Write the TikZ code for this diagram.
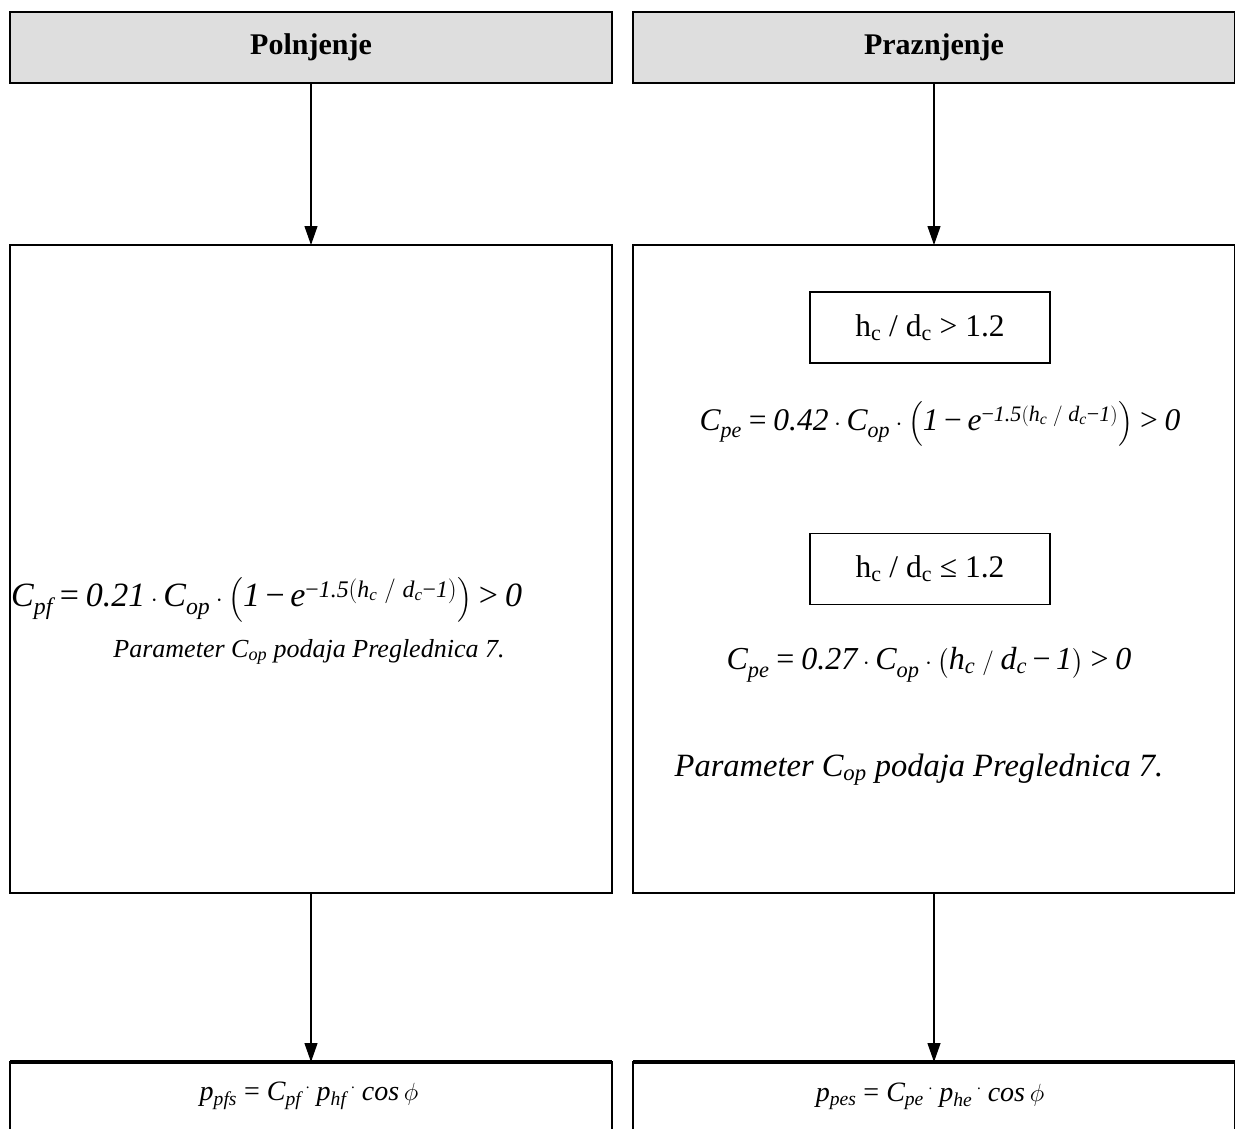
\documentclass[tikz,border=0pt]{standalone}
\usepackage{amsmath}
\usepackage{fontspec}
\setmainfont{Liberation Serif}
\usetikzlibrary{arrows.meta}
\newcommand{\tx}[1]{\text{\itshape #1}}
\newcommand{\eqs}{\mathrel{\text{\upshape =}}}
\newcommand{\gts}{\mathrel{\text{\upshape >}}}
\newcommand{\mns}{\mathbin{\text{\upshape −}}}
\newcommand{\rdot}{\raisebox{0.42em}{\fontsize{15}{15}\selectfont.}}
\begin{document}
\begin{tikzpicture}[x=1pt,y=-1pt,
  frame/.style={draw, line width=1.6pt, inner sep=0pt, outer sep=0pt},
  headbox/.style={frame, fill=black!13, minimum width=602pt, minimum height=71pt,
    font=\fontsize{30}{34}\selectfont\bfseries},
  mainbox/.style={frame, fill=white, minimum width=602pt, minimum height=648pt},
  condbox/.style={frame, minimum width=240pt, minimum height=71pt,
    font=\fontsize{31.5}{36}\selectfont},
  resbox/.style={frame, minimum width=602pt, minimum height=110pt},
  txt/.style={inner sep=0pt},
  flow/.style={line width=1.2pt, -{Triangle[length=19pt,width=13pt]}}
]
\useasboundingbox (0,0) rectangle (1235,1129);
\clip (0,0) rectangle (1235,1129);

% header row
\node[headbox] (fill) at (311,47.5) {Polnjenje};
\node[headbox] (empty) at (934,47.5) {Praznjenje};

% coefficient boxes
\node[mainbox] (cf) at (311,569) {};
\node[mainbox] (ce) at (934,569) {};

% result boxes (run past the lower edge)
\node[resbox, anchor=north] (pf) at (311,1062) {};
\node[resbox, anchor=north] (pe) at (934,1062) {};
\draw[line width=4pt] (pf.north west) -- (pf.north east);
\draw[line width=4pt] (pe.north west) -- (pe.north east);

% flow arrows
\draw[flow] (fill.south) -- (cf.north);
\draw[flow] (empty.south) -- (ce.north);
\draw[flow] (cf.south) -- (pf.north);
\draw[flow] (ce.south) -- (pe.north);

% filling
\node[txt, anchor=west, font=\fontsize{34}{38}\selectfont] (eqf) at (11,600)
  {$\tx{C}_{\raisebox{-0.12em}{$\scriptstyle\tx{pf}$}} \eqs \tx{0.21}\cdot \tx{C}_{\raisebox{-0.12em}{$\scriptstyle\tx{op}$}}\cdot
   \Bigl(\tx{1}\mns\tx{e}^{\mns\tx{1.5}\left(\tx{h}_{\tx{c}}\;/\;\tx{d}_{\tx{c}}\mns\tx{1}\right)}\Bigr) \gts \tx{0}$};
\node[txt, font=\fontsize{26}{30}\selectfont\itshape] (parf) at (309,652)
  {Parameter C\textsubscript{op} podaja Preglednica 7.};

% emptying
\node[condbox] (c1) at (930,327.5) {h\textsubscript{c} / d\textsubscript{c} > 1.2};
\node[txt, font=\fontsize{31.5}{35}\selectfont] (eqe1) at (940,424)
  {$\tx{C}_{\raisebox{-0.12em}{$\scriptstyle\tx{pe}$}} \eqs \tx{0.42}\cdot \tx{C}_{\raisebox{-0.12em}{$\scriptstyle\tx{op}$}}\cdot
   \Bigl(\tx{1}\mns\tx{e}^{\mns\tx{1.5}\left(\tx{h}_{\tx{c}}\;/\;\tx{d}_{\tx{c}}\mns\tx{1}\right)}\Bigr) \gts \tx{0}$};
\node[condbox] (c2) at (930,569) {h\textsubscript{c} / d\textsubscript{c} ≤ 1.2};
\node[txt, font=\fontsize{32}{36}\selectfont] (eqe2) at (929,665)
  {$\tx{C}_{\raisebox{-0.12em}{$\scriptstyle\tx{pe}$}} \eqs \tx{0.27}\cdot \tx{C}_{\raisebox{-0.12em}{$\scriptstyle\tx{op}$}}\cdot
   \bigl(\tx{h}_{\tx{c}}\;/\;\tx{d}_{\tx{c}}\mns\tx{1}\bigr) \gts \tx{0}$};
\node[txt, font=\fontsize{32.5}{37}\selectfont\itshape] (pare) at (919,770)
  {Parameter C\textsubscript{op} podaja Preglednica 7.};

% results
\node[txt, font=\fontsize{28}{32}\selectfont] (rf) at (309,1096)
  {\textit{p\textsubscript{pfs}} = \textit{C\textsubscript{pf}}\,\rdot\ \textit{p\textsubscript{hf}}\,\rdot\ \textit{cos}\,$\phi$};
\node[txt, font=\fontsize{28}{32}\selectfont] (re) at (930,1096)
  {\textit{p\textsubscript{pes}} = \textit{C\textsubscript{pe}}\,\rdot\ \textit{p\textsubscript{he}}\,\rdot\ \textit{cos}\,$\phi$};
\end{tikzpicture}
\end{document}
